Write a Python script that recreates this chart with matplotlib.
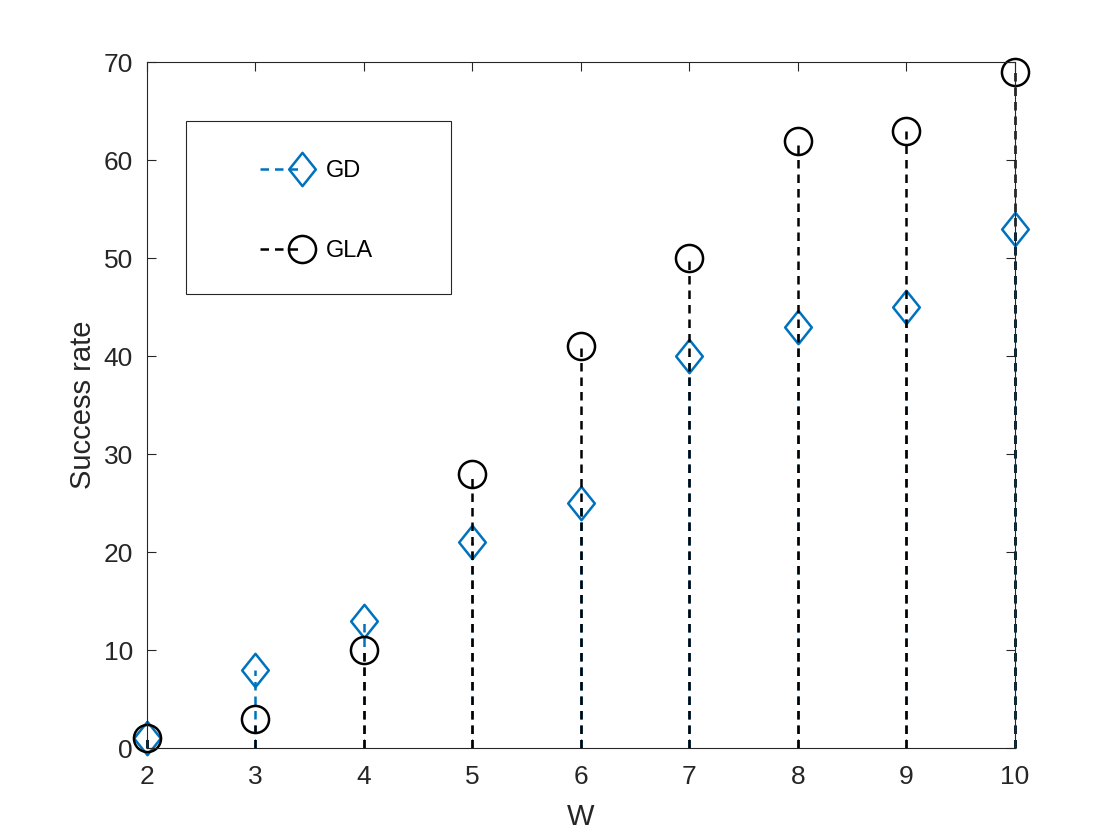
import matplotlib
matplotlib.use("Agg")
import matplotlib.pyplot as plt
from matplotlib.lines import Line2D
from matplotlib.patches import Rectangle
from matplotlib.path import Path
from matplotlib.legend_handler import HandlerLine2D

plt.rcParams['font.family'] = ['Liberation Sans', 'DejaVu Sans']

# data
w_values = [2, 3, 4, 5, 6, 7, 8, 9, 10]
gd_rate = [1, 8, 13, 21, 25, 40, 43, 45, 53]
gla_rate = [1, 3, 10, 28, 41, 50, 62, 63, 69]

blue = '#0072BD'
dark = '#262626'
dash = (0, (3.4, 2.4))
lw = 1.8

# matlab style diamond (a bit taller than wide)
diamond = Path([(0, -1), (0.8, 0), (0, 1), (-0.8, 0), (0, -1)],
               [Path.MOVETO, Path.LINETO, Path.LINETO, Path.LINETO, Path.CLOSEPOLY])


class StemHandler(HandlerLine2D):
    # put the marker at the right end of the legend line, like matlab does
    def create_artists(self, legend, orig_handle, xdescent, ydescent,
                       width, height, fontsize, trans):
        artists = super().create_artists(legend, orig_handle, xdescent, ydescent,
                                         width, height, fontsize, trans)
        for a in artists:
            a.set_markevery([2])
        return artists


fig = plt.figure(figsize=(11.2, 8.4), dpi=100)
ax = fig.add_axes([0.131, 0.1095, 0.775, 0.8165])


def draw_stem(x, y, color, marker, ms):
    markerline, stemlines, baseline = ax.stem(x, y, basefmt=' ')
    stemlines.set_color(color)
    stemlines.set_linestyle(dash)
    stemlines.set_linewidth(lw)
    markerline.set_marker(marker)
    markerline.set_markersize(ms)
    markerline.set_markerfacecolor('none')
    markerline.set_markeredgecolor(color)
    markerline.set_markeredgewidth(lw)
    markerline.set_clip_on(False)
    stemlines.set_clip_on(False)


draw_stem(w_values, gd_rate, blue, diamond, 24)
draw_stem(w_values, gla_rate, 'black', 'o', 19.5)

ax.set_xlim(2, 10)
ax.set_ylim(0, 70)
ax.set_xticks(w_values)
ax.set_yticks(range(0, 71, 10))

ax.tick_params(direction='in', top=True, right=True, length=6.5, width=0.8,
               labelsize=19, colors=dark)
ax.tick_params(axis='x', pad=12)
ax.tick_params(axis='y', pad=10)
for sp in ax.spines.values():
    sp.set_color(dark)
    sp.set_linewidth(0.8)

ax.set_xlabel('W', fontsize=21, color=dark, labelpad=10)
ax.set_ylabel('Success rate', fontsize=21, color=dark, labelpad=5)

h_gd = Line2D([], [], color=blue, linestyle=dash, lw=lw, marker=diamond,
              markersize=24, markerfacecolor='none', markeredgewidth=lw)
h_gla = Line2D([], [], color='black', linestyle=dash, lw=lw, marker='o',
               markersize=19.5, markerfacecolor='none', markeredgewidth=lw)
ax.legend([h_gd, h_gla], ['GD', 'GLA'], loc='center left',
          bbox_to_anchor=(0.130, 0.783), frameon=False, fontsize=17,
          borderpad=0, borderaxespad=0, handlelength=1.8, handletextpad=1.0,
          labelspacing=2.45, numpoints=1,
          handler_map={Line2D: StemHandler()})

ax.add_patch(Rectangle((0.045, 0.662), 0.305, 0.252, transform=ax.transAxes,
                       fill=False, lw=0.8, ec=dark))

fig.savefig('out.png', dpi=100)
